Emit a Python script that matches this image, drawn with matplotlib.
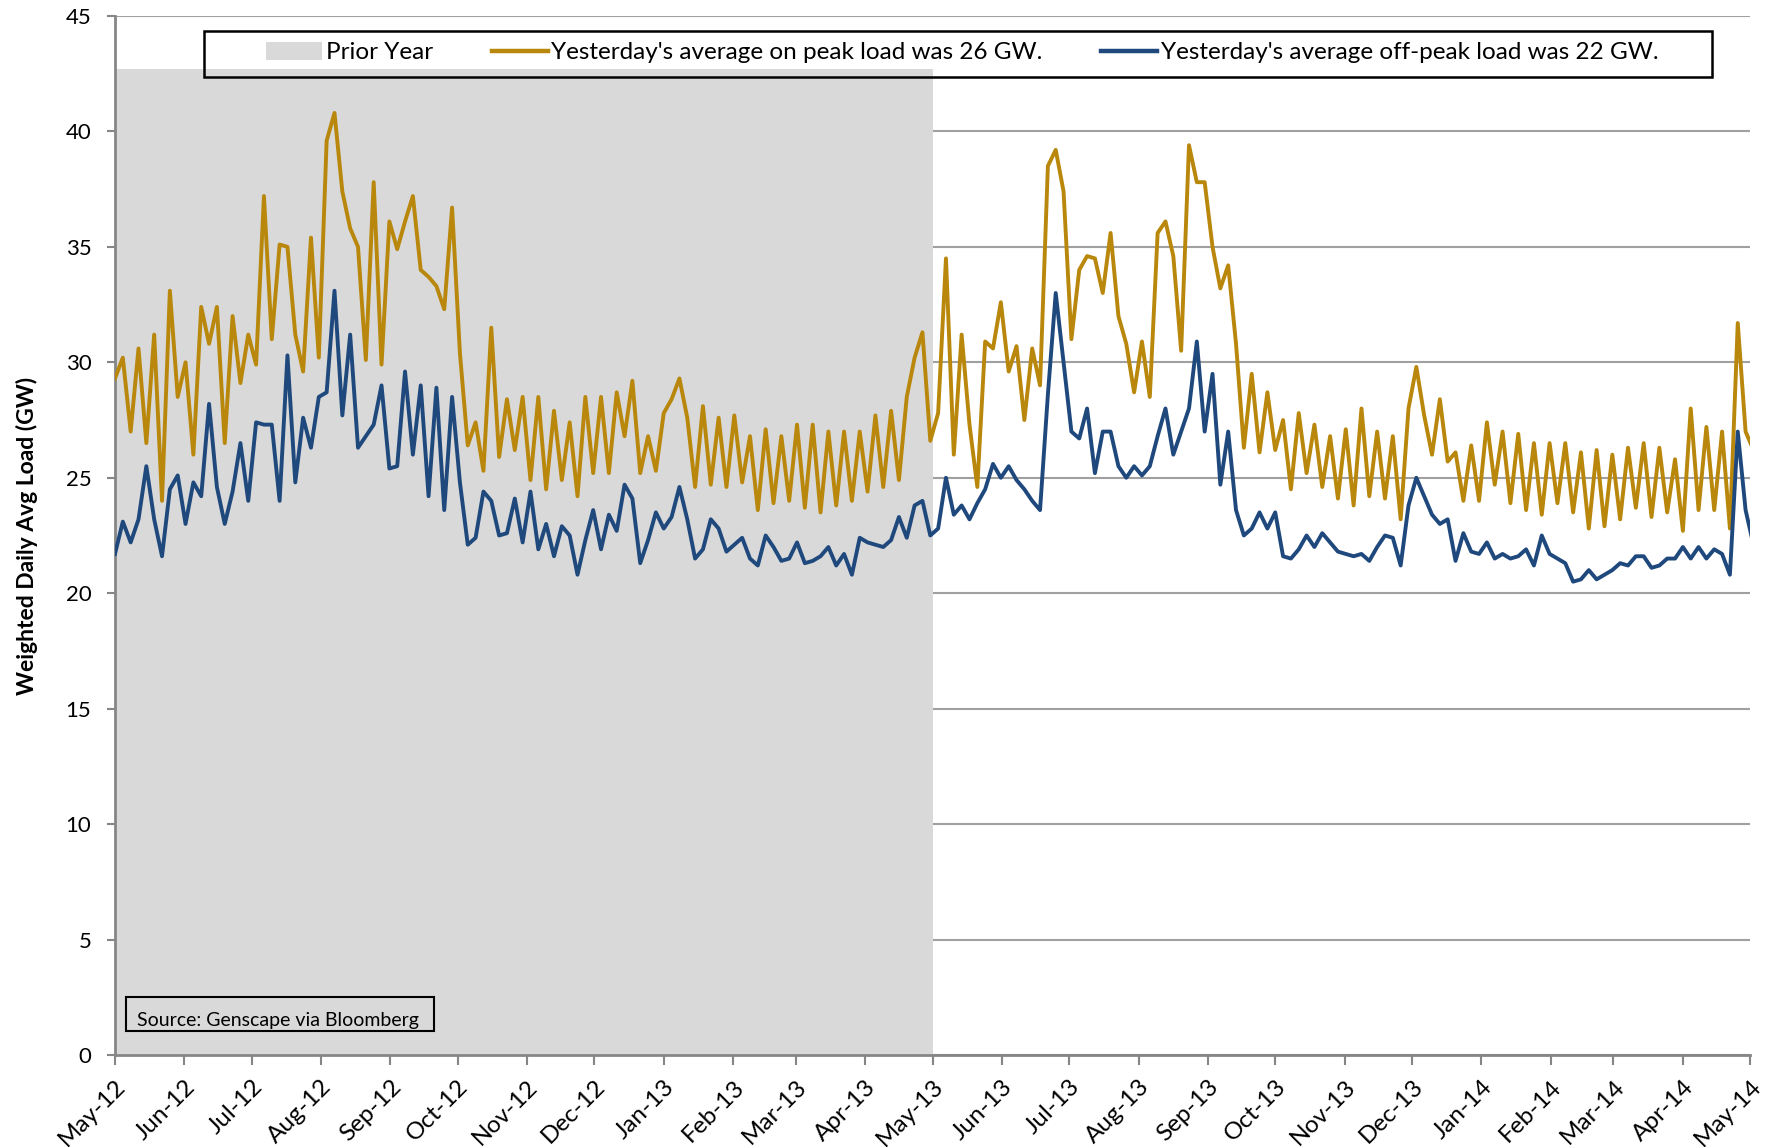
import matplotlib
matplotlib.use("Agg")
import matplotlib.pyplot as plt
import matplotlib.dates as mdates
from matplotlib.patches import Patch, Rectangle
from matplotlib.lines import Line2D
import pandas as pd

plt.rcParams['font.family'] = ['Lato', 'DejaVu Sans']

# twice-weekly readings (weekday / weekend) of the daily weighted load, GW
on_peak = [
    29.3, 30.2, 27.0, 30.6, 26.5, 31.2, 24.0, 33.1, 28.5, 30.0,
    26.0, 32.4, 30.8, 32.4, 26.5, 32.0, 29.1, 31.2, 29.9, 37.2,
    31.0, 35.1, 35.0, 31.2, 29.6, 35.4, 30.2, 39.6, 40.8, 37.4,
    35.8, 35.0, 30.1, 37.8, 29.9, 36.1,
    34.9, 36.1, 37.2, 34.0, 33.7, 33.3, 32.3, 36.7, 30.4, 26.4,
    27.4, 25.3, 31.5, 25.9, 28.4, 26.2, 28.5, 24.9, 28.5, 24.5,
    27.9, 24.9, 27.4, 24.2, 28.5, 25.2, 28.5, 25.2, 28.7, 26.8,
    29.2, 25.2, 26.8, 25.3, 27.8,
    28.4, 29.3, 27.6, 24.6, 28.1, 24.7, 27.6, 24.6, 27.7, 24.8,
    26.8, 23.6, 27.1, 23.9, 26.8, 24.0, 27.3, 23.7, 27.3, 23.5,
    27.0, 23.8, 27.0, 24.0, 27.0, 24.4, 27.7, 24.6, 27.9, 24.9,
    28.5, 30.2, 31.3, 26.6,
    27.8, 34.5, 26.0, 31.2, 27.3, 24.6, 30.9, 30.6, 32.6, 29.6,
    30.7, 27.5, 30.6, 29.0, 38.5, 39.2, 37.4, 31.0, 34.0, 34.6,
    34.5, 33.0, 35.6, 32.0, 30.8, 28.7, 30.9, 28.5, 35.6, 36.1,
    34.6, 30.5, 39.4, 37.8, 37.8, 35.0,
    33.2, 34.2, 30.8, 26.3, 29.5, 26.1, 28.7, 26.2, 27.5, 24.5,
    27.8, 25.2, 27.3, 24.6, 26.8, 24.1, 27.1, 23.8, 28.0, 24.2,
    27.0, 24.1, 26.8, 23.2, 28.0, 29.8, 27.7, 26.0, 28.4, 25.7,
    26.1, 24.0, 26.4, 24.0, 27.4,
    24.7, 27.0, 23.9, 26.9, 23.6, 26.5, 23.4, 26.5, 23.9, 26.5,
    23.5, 26.1, 22.8, 26.2, 22.9, 26.0, 23.2, 26.3, 23.7, 26.5,
    23.3, 26.3, 23.5, 25.8, 22.7, 28.0, 23.6, 27.2, 23.6, 27.0,
    22.8, 31.7, 27.0, 26.2,
]

off_peak = [
    21.7, 23.1, 22.2, 23.2, 25.5, 23.2, 21.6, 24.5, 25.1, 23.0,
    24.8, 24.2, 28.2, 24.6, 23.0, 24.4, 26.5, 24.0, 27.4, 27.3,
    27.3, 24.0, 30.3, 24.8, 27.6, 26.3, 28.5, 28.7, 33.1, 27.7,
    31.2, 26.3, 26.8, 27.3, 29.0, 25.4,
    25.5, 29.6, 26.0, 29.0, 24.2, 28.9, 23.6, 28.5, 24.8, 22.1,
    22.4, 24.4, 24.0, 22.5, 22.6, 24.1, 22.2, 24.4, 21.9, 23.0,
    21.6, 22.9, 22.5, 20.8, 22.3, 23.6, 21.9, 23.4, 22.7, 24.7,
    24.1, 21.3, 22.3, 23.5, 22.8,
    23.3, 24.6, 23.2, 21.5, 21.9, 23.2, 22.8, 21.8, 22.1, 22.4,
    21.5, 21.2, 22.5, 22.0, 21.4, 21.5, 22.2, 21.3, 21.4, 21.6,
    22.0, 21.2, 21.7, 20.8, 22.4, 22.2, 22.1, 22.0, 22.3, 23.3,
    22.4, 23.8, 24.0, 22.5,
    22.8, 25.0, 23.4, 23.8, 23.2, 23.9, 24.5, 25.6, 25.0, 25.5,
    24.9, 24.5, 24.0, 23.6, 28.6, 33.0, 30.0, 27.0, 26.7, 28.0,
    25.2, 27.0, 27.0, 25.5, 25.0, 25.5, 25.1, 25.5, 26.8, 28.0,
    26.0, 27.0, 28.0, 30.9, 27.0, 29.5,
    24.7, 27.0, 23.6, 22.5, 22.8, 23.5, 22.8, 23.5, 21.6, 21.5,
    21.9, 22.5, 22.0, 22.6, 22.2, 21.8, 21.7, 21.6, 21.7, 21.4,
    22.0, 22.5, 22.4, 21.2, 23.8, 25.0, 24.2, 23.4, 23.0, 23.2,
    21.4, 22.6, 21.8, 21.7, 22.2,
    21.5, 21.7, 21.5, 21.6, 21.9, 21.2, 22.5, 21.7, 21.5, 21.3,
    20.5, 20.6, 21.0, 20.6, 20.8, 21.0, 21.3, 21.2, 21.6, 21.6,
    21.1, 21.2, 21.5, 21.5, 22.0, 21.5, 22.0, 21.5, 21.9, 21.7,
    20.8, 27.0, 23.6, 22.1,
]
assert len(on_peak) == len(off_peak)

dates = pd.date_range("2012-05-01", periods=len(on_peak), freq="84h")

prior_year = [pd.Timestamp("2012-05-01"), pd.Timestamp("2013-05-01")]
prior_year_top = 42.7

on_label = "Yesterday's average on peak load was 26 GW."
off_label = "Yesterday's average off-peak load was 22 GW."

gold = "#B8870B"
navy = "#1F497D"
axis_grey = "#868686"

fig = plt.figure(figsize=(17.69, 11.47), dpi=100)
ax = fig.add_axes([0.065, 0.0802, 0.9243, 0.9059])

ax.fill_between(prior_year, 0, prior_year_top, color="#D9D9D9", lw=0, zorder=1)
ax.plot(dates, on_peak, color=gold, lw=2.8, zorder=3, solid_joinstyle="round")
ax.plot(dates, off_peak, color=navy, lw=2.8, zorder=3, solid_joinstyle="round")

ax.set_ylim(0, 45)
ax.set_yticks(range(0, 46, 5))
ax.set_xlim(pd.Timestamp("2012-05-01"), pd.Timestamp("2014-05-01"))
ax.xaxis.set_major_locator(mdates.MonthLocator())
ax.xaxis.set_major_formatter(mdates.DateFormatter("%b-%y"))

ax.grid(axis="y", color="#A0A0A0", lw=1.5, zorder=0)
ax.set_axisbelow(True)
for side in ["top", "right"]:
    ax.spines[side].set_visible(False)
for side in ["left", "bottom"]:
    ax.spines[side].set_color(axis_grey)
    ax.spines[side].set_linewidth(2)

ax.tick_params(axis="y", colors=axis_grey, width=1.5, length=6, pad=11,
               labelsize=16, labelcolor="black")
ax.tick_params(axis="x", colors=axis_grey, width=1.5, length=7, pad=8,
               labelsize=17.5, labelcolor="black")
plt.setp(ax.get_xticklabels(), rotation=45, ha="right", rotation_mode="anchor")

ax.set_ylabel("Weighted Daily Avg Load (GW)", fontsize=16.5, fontweight="bold",
              labelpad=20)

handles = [
    Patch(facecolor="#D9D9D9", edgecolor="none", label="Prior Year"),
    Line2D([], [], color=gold, lw=3.2, label=on_label),
    Line2D([], [], color=navy, lw=3.2, label=off_label),
]
leg = ax.legend(handles=handles, loc="center", mode="expand",
                bbox_to_anchor=(0.0925, 0.9547, 0.8515, 0.02),
                ncol=3, fontsize=17.5, frameon=False, handlelength=2.3,
                handleheight=0.75, handletextpad=0.15, borderpad=0,
                borderaxespad=0)
leg.set_zorder(5)
ax.add_patch(Rectangle((0.0545, 0.9414), 0.922, 0.0445, transform=ax.transAxes,
                       facecolor="none", edgecolor="black", lw=1.8, zorder=5,
                       clip_on=False))

# source note in the lower left corner
ax.add_patch(Rectangle((0.0066, 0.0235), 0.1885, 0.0325, transform=ax.transAxes,
                       facecolor="none", edgecolor="black", lw=1.5, zorder=4))
ax.text(0.0135, 0.0255, "Source: Genscape via Bloomberg", transform=ax.transAxes,
        fontsize=14, ha="left", va="bottom", zorder=4)

fig.savefig("out.png", dpi=100)
